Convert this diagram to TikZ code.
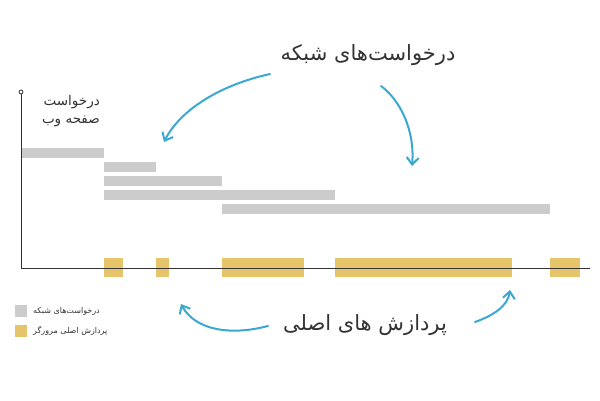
\documentclass[tikz,border=0pt]{standalone}
\usepackage{fontspec}
\newfontfamily\arabicfont[Script=Arabic]{DejaVu Sans}
\TeXXeTstate=1
\usetikzlibrary{arrows.meta}
\definecolor{gbar}{HTML}{CCCCCC}
\definecolor{ybar}{HTML}{E6C46A}
\definecolor{barrow}{HTML}{3AA8D0}
\definecolor{txt}{HTML}{333333}
\begin{document}
\begin{tikzpicture}[x=1pt,y=-1pt,
  gray bar/.style={fill=gbar,draw=none},
  yel bar/.style={fill=ybar,draw=none},
  curvy/.style={draw=barrow,line width=2pt,line cap=round,-{Straight Barb[length=7pt,width=12pt]}},
  lbl/.style={text=txt,inner sep=0pt}]
\useasboundingbox (0,0) rectangle (600,400);
\fill[white] (0,0) rectangle (600,400);
% bars
\fill[gray bar] (21,148) rectangle (104,158);
\fill[gray bar] (104,162) rectangle (156,172);
\fill[gray bar] (104,176) rectangle (222,186);
\fill[gray bar] (104,190) rectangle (335,200);
\fill[gray bar] (222,204) rectangle (550,214);
\fill[yel bar] (104,258) rectangle (123,277);
\fill[yel bar] (156,258) rectangle (169,277);
\fill[yel bar] (222,258) rectangle (304,277);
\fill[yel bar] (335,258) rectangle (512,277);
\fill[yel bar] (550,258) rectangle (580,277);
% axes
\coordinate (o) at (21,268);
\coordinate (top) at (21,94);
\coordinate (xend) at (590,268);
\draw[txt,line width=0.9pt] (top) -- (o) -- (xend);
\draw[txt,line width=0.8pt,fill=white] (21,92) circle (2pt);
% labels
\node[lbl,anchor=east,font=\arabicfont\fontsize{13.5}{15}\selectfont,align=right] (yl) at (100,111) {\beginR درخواست\endR\\[3pt]\beginR صفحه وب\endR};
\node[lbl,font=\arabicfont\fontsize{21}{24}\selectfont] (t1) at (368,55) {\beginR درخواست‌های شبکه\endR};
\node[lbl,font=\arabicfont\fontsize{21}{24}\selectfont] (t2) at (365,325) {\beginR پردازش های اصلی\endR};
% legend
\fill[gray bar] (15,305) rectangle (27,317);
\fill[yel bar] (15,325) rectangle (27,337);
\node[lbl,anchor=west,font=\arabicfont\fontsize{8}{9}\selectfont] (l1) at (33,311) {\beginR درخواست‌های شبکه\endR};
\node[lbl,anchor=west,font=\arabicfont\fontsize{8}{9}\selectfont] (l2) at (33,331) {\beginR پردازش اصلی مرورگر\endR};
% arrows
\coordinate (a1s) at (270,74);
\coordinate (a1e) at (164,142);
\coordinate (a2s) at (381,86);
\coordinate (a2e) at (412,166);
\coordinate (a3s) at (268,326);
\coordinate (a3e) at (181,304);
\coordinate (a4s) at (475,322);
\coordinate (a4e) at (510,290);
\draw[curvy] (a1s) .. controls (220,85) and (180,110) .. (a1e);
\draw[curvy] (a2s) .. controls (400,100) and (415,130) .. (a2e);
\draw[curvy] (a3s) .. controls (230,336) and (195,330) .. (a3e);
\draw[curvy] (a4s) .. controls (495,315) and (508,305) .. (a4e);
\end{tikzpicture}
\end{document}
